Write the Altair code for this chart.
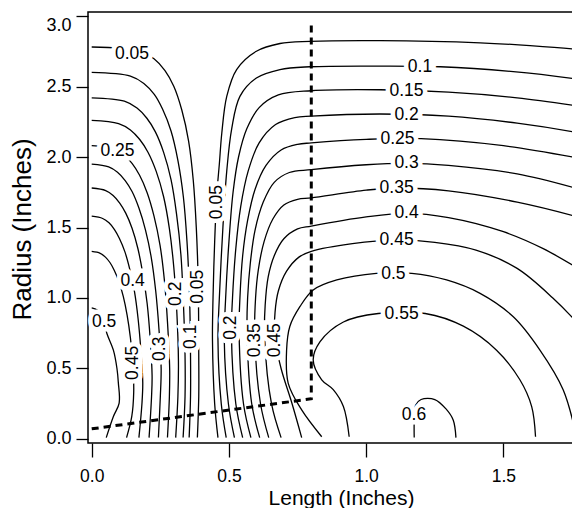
import altair as alt
import pandas as pd

FONT = "Liberation Sans"

# ---- contour lines, (length, radius) in inches ----
# left family: starts at the left edge, bends down to the bottom
L05 = [(0.0, 2.78), (0.174, 2.752), (0.227, 2.697), (0.267, 2.613), (0.299, 2.502), (0.328, 2.335),
       (0.353, 2.113), (0.370, 1.835), (0.381, 1.501), (0.388, 1.112), (0.390, 0.6), (0.390, 0.3), (0.385, 0.01)]
L10 = [(0.0, 2.60), (0.141, 2.574), (0.190, 2.522), (0.228, 2.444), (0.258, 2.34), (0.289, 2.184),
       (0.314, 1.976), (0.334, 1.716), (0.347, 1.404), (0.356, 1.04), (0.360, 0.6), (0.360, 0.3), (0.355, 0.01)]
L15 = [(0.0, 2.42), (0.119, 2.396), (0.165, 2.347), (0.201, 2.275), (0.232, 2.178), (0.262, 2.033),
       (0.289, 1.839), (0.309, 1.597), (0.325, 1.307), (0.334, 0.968), (0.340, 0.6), (0.340, 0.3), (0.333, 0.01)]
L20 = [(0.0, 2.26), (0.098, 2.237), (0.141, 2.192), (0.175, 2.124), (0.205, 2.034), (0.235, 1.898),
       (0.262, 1.718), (0.283, 1.492), (0.299, 1.220), (0.310, 0.904), (0.316, 0.55), (0.314, 0.3), (0.306, 0.01)]
L25 = [(0.0, 2.08), (0.079, 2.059), (0.116, 2.018), (0.147, 1.955), (0.174, 1.872), (0.202, 1.747),
       (0.227, 1.581), (0.249, 1.373), (0.265, 1.123), (0.276, 0.832), (0.284, 0.5), (0.283, 0.3), (0.276, 0.01)]
L30 = [(0.0, 1.95), (0.062, 1.93), (0.094, 1.892), (0.122, 1.833), (0.147, 1.755), (0.172, 1.638),
       (0.196, 1.482), (0.217, 1.287), (0.233, 1.053), (0.245, 0.78), (0.253, 0.5), (0.250, 0.3), (0.243, 0.01)]
L35 = [(0.0, 1.78), (0.051, 1.762), (0.078, 1.727), (0.102, 1.673), (0.124, 1.602), (0.147, 1.495),
       (0.168, 1.353), (0.186, 1.175), (0.202, 0.961), (0.213, 0.712), (0.220, 0.45), (0.218, 0.3), (0.209, 0.01)]
L40 = [(0.0, 1.58), (0.040, 1.564), (0.063, 1.533), (0.083, 1.485), (0.101, 1.422), (0.121, 1.327),
       (0.139, 1.201), (0.156, 1.043), (0.169, 0.853), (0.179, 0.632), (0.186, 0.4), (0.183, 0.25), (0.172, 0.01)]
L45 = [(0.0, 1.33), (0.031, 1.317), (0.050, 1.29), (0.067, 1.25), (0.082, 1.197), (0.099, 1.117),
       (0.115, 1.011), (0.129, 0.878), (0.141, 0.718), (0.150, 0.532), (0.153, 0.33), (0.146, 0.16), (0.127, 0.01)]
L50 = [(0.0, 0.93), (0.02, 0.915), (0.04, 0.86), (0.055, 0.75), (0.079, 0.63), (0.092, 0.5),
       (0.097, 0.40), (0.100, 0.255), (0.079, 0.16), (0.053, 0.01)]

# right family: rises from the bottom, turns right near the dashed line
R05 = [(0.46, 0.01), (0.448, 0.25), (0.44, 0.7), (0.442, 1.0), (0.448, 1.4), (0.456, 1.74), (0.465, 1.95),
       (0.474, 2.17), (0.492, 2.43), (0.528, 2.62), (0.60, 2.75), (0.686, 2.805), (0.795, 2.82),
       (1.05, 2.825), (1.415, 2.81), (1.597, 2.79), (1.78, 2.76), (1.83, 2.745)]
R10 = [(0.49, 0.01), (0.472, 0.25), (0.46, 0.7), (0.465, 1.0), (0.478, 1.5), (0.492, 1.9), (0.51, 2.2),
       (0.54, 2.43), (0.60, 2.56), (0.686, 2.62), (0.795, 2.64), (1.05, 2.645), (1.27, 2.64),
       (1.536, 2.605), (1.78, 2.55), (1.83, 2.535)]
R15 = [(0.52, 0.01), (0.498, 0.25), (0.483, 0.7), (0.488, 1.0), (0.50, 1.4), (0.515, 1.75), (0.535, 2.0),
       (0.565, 2.2), (0.61, 2.35), (0.68, 2.44), (0.80, 2.47), (1.05, 2.477), (1.3, 2.46),
       (1.55, 2.42), (1.78, 2.36), (1.83, 2.345)]
R20 = [(0.55, 0.01), (0.525, 0.25), (0.509, 0.75), (0.513, 1.0), (0.525, 1.35), (0.543, 1.65), (0.57, 1.9),
       (0.61, 2.1), (0.67, 2.23), (0.74, 2.28), (0.80, 2.29), (1.05, 2.305), (1.3, 2.29),
       (1.55, 2.24), (1.78, 2.17), (1.83, 2.15)]
R25 = [(0.58, 0.01), (0.553, 0.25), (0.537, 0.75), (0.54, 1.0), (0.55, 1.3), (0.568, 1.55), (0.595, 1.77),
       (0.635, 1.94), (0.69, 2.05), (0.75, 2.09), (0.80, 2.10), (1.0, 2.125), (1.2, 2.13),
       (1.5, 2.08), (1.78, 1.99), (1.83, 1.97)]
R30 = [(0.612, 0.01), (0.583, 0.25), (0.566, 0.75), (0.568, 1.0), (0.578, 1.25), (0.595, 1.48),
       (0.625, 1.68), (0.665, 1.82), (0.72, 1.89), (0.80, 1.91), (1.0, 1.945), (1.15, 1.955),
       (1.3, 1.94), (1.55, 1.88), (1.78, 1.77), (1.83, 1.74)]
R35 = [(0.645, 0.01), (0.615, 0.25), (0.594, 0.72), (0.597, 1.0), (0.607, 1.2), (0.628, 1.4), (0.66, 1.56),
       (0.70, 1.66), (0.75, 1.70), (0.80, 1.71), (1.0, 1.765), (1.11, 1.78), (1.3, 1.76),
       (1.55, 1.68), (1.78, 1.57), (1.83, 1.54)]
R40 = [(0.69, 0.01), (0.655, 0.25), (0.63, 0.72), (0.632, 0.95), (0.643, 1.15), (0.665, 1.3), (0.70, 1.42),
       (0.75, 1.49), (0.80, 1.51), (1.0, 1.575), (1.146, 1.60), (1.3, 1.57), (1.5, 1.47),
       (1.645, 1.35), (1.78, 1.2), (1.83, 1.14)]
R45 = [(0.765, 0.01), (0.73, 0.25), (0.69, 0.5), (0.667, 0.72), (0.668, 0.9), (0.68, 1.05), (0.71, 1.19),
       (0.755, 1.29), (0.80, 1.33), (0.95, 1.385), (1.11, 1.41), (1.25, 1.395), (1.4, 1.34),
       (1.55, 1.21), (1.68, 1.0), (1.78, 0.8), (1.83, 0.68)]
R50 = [(0.838, 0.016), (0.765, 0.206), (0.716, 0.395), (0.71, 0.63), (0.722, 0.80), (0.759, 0.94),
       (0.807, 1.057), (0.893, 1.128), (1.037, 1.175), (1.166, 1.175), (1.293, 1.128), (1.415, 1.033),
       (1.536, 0.867), (1.633, 0.631), (1.718, 0.348), (1.766, 0.016)]
R55 = [(0.938, 0.016), (0.917, 0.23), (0.88, 0.35), (0.838, 0.42), (0.807, 0.56), (0.832, 0.69),
       (0.917, 0.83), (1.044, 0.89), (1.215, 0.89), (1.354, 0.80), (1.475, 0.63), (1.56, 0.42),
       (1.603, 0.23), (1.617, 0.016)]
R60 = [(1.175, 0.01), (1.175, 0.12), (1.18, 0.24), (1.20, 0.28), (1.25, 0.28), (1.29, 0.215),
       (1.317, 0.135), (1.327, 0.01)]

# dashed boundary
dash_x = [0.0, 0.8, 0.8]
dash_y = [0.072, 0.285, 2.95]

# contour labels
lab_text = ["0.05", "0.25", "0.4", "0.5", "0.45", "0.3", "0.2", "0.05", "0.1",
            "0.05", "0.2", "0.35", "0.45",
            "0.1", "0.15", "0.2", "0.25", "0.3", "0.35", "0.4", "0.45", "0.5", "0.55", "0.6"]
lab_x = [0.147, 0.094, 0.149, 0.045, 0.150, 0.249, 0.307, 0.386, 0.360,
         0.456, 0.506, 0.594, 0.667,
         1.196, 1.147, 1.147, 1.114, 1.147, 1.111, 1.147, 1.111, 1.099, 1.129, 1.174]
lab_y = [2.73, 2.04, 1.12, 0.83, 0.54, 0.64, 1.03, 1.08, 0.725,
         1.68, 0.79, 0.70, 0.70,
         2.64, 2.47, 2.30, 2.13, 1.955, 1.78, 1.60, 1.41, 1.17, 0.89, 0.17]
lab_angle = [0, 0, 0, 0, 270, 270, 270, 270, 270,
             270, 270, 270, 270,
             0, 0, 0, 0, 0, 0, 0, 0, 0, 0, 0]

x_ticks = [0.0, 0.5, 1.0, 1.5]
y_ticks = [0.0, 0.5, 1.0, 1.5, 2.0, 2.5, 3.0]

contours = {"L05": L05, "L10": L10, "L15": L15, "L20": L20, "L25": L25, "L30": L30, "L35": L35,
            "L40": L40, "L45": L45, "L50": L50, "R05": R05, "R10": R10, "R15": R15, "R20": R20,
            "R25": R25, "R30": R30, "R35": R35, "R40": R40, "R45": R45, "R50": R50, "R55": R55,
            "R60": R60}
rows = []
for name, pts in contours.items():
    for i, (x, y) in enumerate(pts):
        rows.append({"c": name, "i": i, "x": x, "y": y})
df = pd.DataFrame(rows)
dash_df = pd.DataFrame({"x": dash_x, "y": dash_y, "i": list(range(len(dash_x)))})
lab_df = pd.DataFrame({"t": lab_text, "x": lab_x, "y": lab_y, "a": lab_angle})

xscale = alt.Scale(domain=[-0.0135, 1.830], nice=False, zero=False)
yscale = alt.Scale(domain=[-0.0284, 3.0284], nice=False, zero=False)

xaxis = alt.Axis(values=x_ticks, format=".1f", title="Length (Inches)", tickSize=14, labelPadding=10,
                 labelFontSize=17.5, titleFontSize=21, titleFontWeight="normal", titleBaseline="alphabetic",
                 titleY=61.5, titleX=253, titleAlign="center", grid=False, domain=False,
                 labelFlush=False, tickColor="black", tickWidth=1.3, labelColor="black",
                 titleColor="black", labelFont=FONT, titleFont=FONT)
yaxis = alt.Axis(values=y_ticks, format=".1f", title="Radius (Inches)", tickSize=12, labelPadding=5,
                 labelFontSize=18, titleFontSize=26, titleFontWeight="normal", titleBaseline="alphabetic",
                 titleAngle=270, titleX=-58, titleY=217, titleAlign="center", grid=False, domain=False,
                 labelBaseline={"condition": {"test": "datum.value >= 2.99", "value": "top"},
                                "value": "middle"},
                 tickColor="black", tickWidth=1.3, labelColor="black", titleColor="black",
                 labelFont=FONT, titleFont=FONT)

lines = alt.Chart(df).mark_line(interpolate="catmull-rom", color="black", strokeWidth=1.3,
                                clip=True).encode(
    x=alt.X("x:Q", scale=xscale, axis=xaxis),
    y=alt.Y("y:Q", scale=yscale, axis=yaxis),
    detail="c:N",
    order="i:Q",
)

dash = alt.Chart(dash_df).mark_line(color="black", strokeWidth=3, strokeDash=[7, 5], clip=True).encode(
    x=alt.X("x:Q", scale=xscale),
    y=alt.Y("y:Q", scale=yscale),
    order="i:Q",
)

halo = alt.Chart(lab_df).mark_text(font=FONT, fontSize=17.5, color="white", stroke="white",
                                   strokeWidth=9, align="center", baseline="middle").encode(
    x=alt.X("x:Q", scale=xscale),
    y=alt.Y("y:Q", scale=yscale),
    text="t:N",
    angle=alt.Angle("a:Q", scale=None),
)
txt = alt.Chart(lab_df).mark_text(font=FONT, fontSize=17.5, color="black", align="center",
                                  baseline="middle").encode(
    x=alt.X("x:Q", scale=xscale),
    y=alt.Y("y:Q", scale=yscale),
    text="t:N",
    angle=alt.Angle("a:Q", scale=None),
)

chart = alt.layer(lines, dash, halo, txt).properties(
    width=506, height=431,
    padding={"left": 80, "top": 4, "right": -22, "bottom": 65},
    autosize=alt.AutoSizeParams(type="none"),
    background="white",
).configure_view(stroke="black", strokeWidth=1.5)

chart.save("out.html", embed_options={"renderer": "svg", "actions": False})
